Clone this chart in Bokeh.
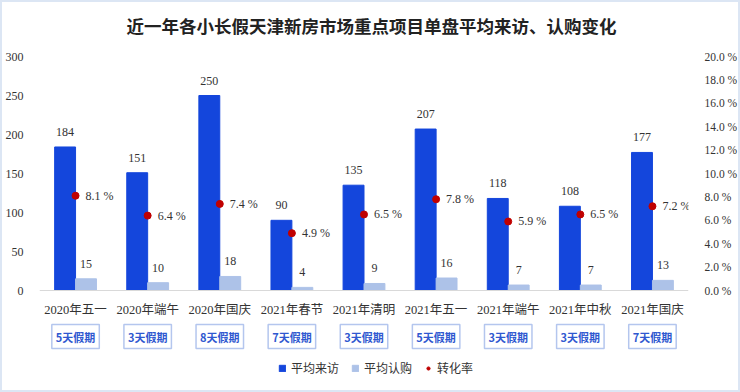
from bokeh.plotting import figure
from bokeh.models import (FactorRange, Range1d, LinearAxis, FixedTicker, Label,
                          Legend, LegendItem, ColumnDataSource, LabelSet)
from bokeh.transform import dodge
from bokeh.embed import file_html
from bokeh.resources import INLINE

categories = ["2020年五一", "2020年端午", "2020年国庆", "2021年春节", "2021年清明",
              "2021年五一", "2021年端午", "2021年中秋", "2021年国庆"]
holiday_days = ["5天假期", "3天假期", "8天假期", "7天假期", "3天假期",
                "5天假期", "3天假期", "3天假期", "7天假期"]
avg_visits = [184, 151, 250, 90, 135, 207, 118, 108, 177]
avg_subs = [15, 10, 18, 4, 9, 16, 7, 7, 13]
conv_rate = [8.1, 6.4, 7.4, 4.9, 6.5, 7.8, 5.9, 6.5, 7.2]
left_ticks = [0, 50, 100, 150, 200, 250, 300]
right_ticks = [0, 2, 4, 6, 8, 10, 12, 14, 16, 18, 20]
right_tick_labels = ["0.0 %", "2.0 %", "4.0 %", "6.0 %", "8.0 %", "10.0 %",
                     "12.0 %", "14.0 %", "16.0 %", "18.0 %", "20.0 %"]

TITLE = "近一年各小长假天津新房市场重点项目单盘平均来访、认购变化"
NUM_FONT = "'Liberation Serif', 'Noto Sans CJK SC'"
CJK_FONT = "'Noto Sans CJK SC'"
BLUE = "#1446dc"
LIGHT = "#adc2e8"
RED = "#c00000"
TXT = "#333333"

# layout: value axis 0..300 spans 234 px (zero at y=290, 300 at y=56 from the top);
# the frame continues above and below so the title, the holiday boxes and the
# legend can be drawn inside it
W_FIG, H_FIG = 740, 392
TOP, BOTTOM = 3, 5
ZERO_Y, TOP_TICK_Y = 290, 56
PX_PER_UNIT = (ZERO_Y - TOP_TICK_Y) / 300
Y_MAX = 300 + (TOP_TICK_Y - TOP) / PX_PER_UNIT
Y_MIN = -(H_FIG - BOTTOM - ZERO_Y) / PX_PER_UNIT
R_MAX = Y_MAX * 20 / 300
R_MIN = Y_MIN * 20 / 300
BOX_Y = -46 / PX_PER_UNIT
FRAME_LEFT = 39

src = ColumnDataSource(dict(
    cat=categories,
    visits=avg_visits,
    subs=avg_subs,
    rate=conv_rate,
    visits_txt=[str(v) for v in avg_visits],
    subs_txt=[str(v) for v in avg_subs],
    rate_txt=[f"{r:.1f} %" for r in conv_rate],
))

p = figure(width=W_FIG, height=H_FIG, x_range=FactorRange(*categories, range_padding=0),
           y_range=Range1d(Y_MIN, Y_MAX), output_backend="svg", toolbar_location=None,
           min_border_left=FRAME_LEFT, min_border_right=50, min_border_top=TOP,
           min_border_bottom=BOTTOM)
p.styles = {"box-shadow": "inset 0 0 0 2px #dce6f4"}
p.extra_y_ranges = {"rate": Range1d(R_MIN, R_MAX)}
p.grid.visible = False
p.outline_line_color = None
p.background_fill_alpha = 0
p.border_fill_alpha = 0

# chart title
p.add_layout(Label(x=371 - FRAME_LEFT, y=H_FIG - BOTTOM - 25, x_units="screen",
                   y_units="screen", text=TITLE, text_align="center",
                   text_baseline="middle", text_font=CJK_FONT, text_font_size="17.5px",
                   text_font_style="bold", text_color="#222222"))

W = 0.29
r1 = p.vbar(x=dodge("cat", -W / 2, range=p.x_range), top="visits", width=W, source=src,
            fill_color=BLUE, line_color=BLUE)
r2 = p.vbar(x=dodge("cat", W / 2, range=p.x_range), top="subs", width=W, source=src,
            fill_color=LIGHT, line_color=LIGHT)
r3 = p.scatter(x="cat", y="rate", source=src, y_range_name="rate", size=7,
               fill_color=RED, line_color=RED)

common = dict(source=src, text_font=NUM_FONT, text_font_size="12px", text_color=TXT)
p.add_layout(LabelSet(x=dodge("cat", -W / 2, range=p.x_range), y="visits", text="visits_txt",
                      text_align="center", text_baseline="middle", y_offset=15, **common))
p.add_layout(LabelSet(x=dodge("cat", W / 2, range=p.x_range), y="subs", text="subs_txt",
                      text_align="center", text_baseline="middle", y_offset=15, **common))
p.add_layout(LabelSet(x="cat", y="rate", text="rate_txt", y_range_name="rate",
                      text_align="left", text_baseline="middle", x_offset=10, **common))

# category axis drawn at value 0
ax = p.xaxis[0]
ax.fixed_location = 0
ax.axis_line_color = "#d9d9d9"
ax.major_tick_line_color = None
ax.minor_tick_line_color = None
ax.major_label_standoff = 6
ax.major_label_text_font = NUM_FONT
ax.major_label_text_font_size = "12.5px"
ax.major_label_text_color = TXT

ly = p.yaxis[0]
ly.ticker = FixedTicker(ticks=left_ticks)
ly.axis_line_color = None
ly.major_tick_line_color = None
ly.minor_tick_line_color = None
ly.major_label_standoff = 10
ly.major_label_text_font = NUM_FONT
ly.major_label_text_font_size = "12px"
ly.major_label_text_color = TXT

ry = LinearAxis(y_range_name="rate", ticker=FixedTicker(ticks=right_ticks),
                major_label_overrides={t: s for t, s in zip(right_ticks, right_tick_labels)})
ry.axis_line_color = None
ry.major_tick_line_color = None
ry.minor_tick_line_color = None
ry.major_label_standoff = 10
ry.major_label_text_font = NUM_FONT
ry.major_label_text_font_size = "11.5px"
ry.major_label_text_color = TXT
p.add_layout(ry, "right")

# holiday length boxes (category i is centred at i + 0.5 on the factor range)
for i, d in enumerate(holiday_days):
    p.add_layout(Label(x=i + 0.5, y=BOX_Y, text=d, text_align="center",
                       text_baseline="middle", text_font=CJK_FONT, text_font_size="11px",
                       text_font_style="bold", text_color="#2f58d0",
                       border_line_color="#b4c6ee", border_line_width=1.5,
                       background_fill_color="white", padding=4))

legend = Legend(items=[LegendItem(label="平均来访", renderers=[r1]),
                       LegendItem(label="平均认购", renderers=[r2]),
                       LegendItem(label="转化率", renderers=[r3])],
                orientation="horizontal", location=(239, 11), border_line_color=None,
                background_fill_alpha=0, glyph_width=8, glyph_height=8, label_standoff=5,
                spacing=12, padding=0, margin=0, label_text_font=CJK_FONT,
                label_text_font_size="12px", label_text_color=TXT)
p.add_layout(legend, "center")

open("out.html", "w").write(file_html(p, INLINE))
